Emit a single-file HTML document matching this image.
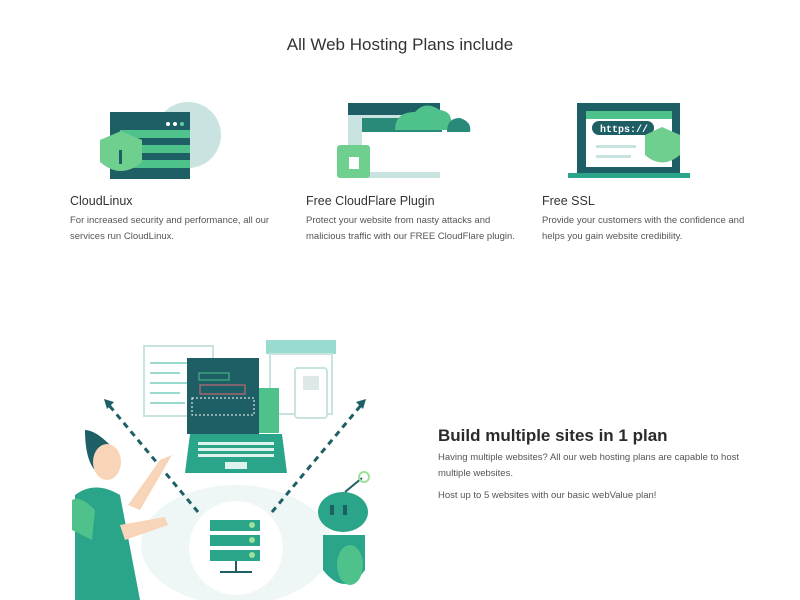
<!DOCTYPE html>
<html><head><meta charset="utf-8"><style>
body{margin:0;width:800px;height:600px;background:#fff;font-family:"Liberation Sans",sans-serif;position:relative;overflow:hidden;color:#333}
.t{position:absolute;white-space:nowrap}
h1{position:absolute;margin:0;top:35px;left:0;width:800px;text-align:center;font-weight:normal;font-size:17px;color:#333}
.h{font-size:12.5px;color:#333}
.d{font-size:9.5px;color:#555;line-height:16px}
</style></head><body>
<h1>All Web Hosting Plans include</h1>
<svg width="800" height="600" style="position:absolute;left:0;top:0">
<!-- icon 1 -->
<circle cx="188" cy="135" r="33" fill="#c9e3e0"/>
<rect x="110" y="112" width="80" height="67" fill="#1e5f66"/>
<rect x="120" y="130" width="70" height="8" fill="#4fc18a"/>
<rect x="120" y="145" width="70" height="8" fill="#4fc18a"/>
<rect x="120" y="160" width="70" height="8" fill="#4fc18a"/>
<circle cx="168" cy="124" r="2" fill="#fff"/><circle cx="175" cy="124" r="2" fill="#fff"/><circle cx="182" cy="124" r="2" fill="#5cd0a8"/>
<path d="M100 140 L121 131 L142 140 L142 162 Q121 180 100 162 Z" fill="#6fcf8f"/>
<rect x="119" y="150" width="3" height="14" fill="#1e5f66"/>
<!-- icon 2 -->
<rect x="348" y="103" width="92" height="75" fill="#c9e3e0"/>
<rect x="348" y="103" width="92" height="12" fill="#1e5f66"/>
<rect x="362" y="118" width="80" height="14" fill="#2a8a7a"/>
<rect x="362" y="132" width="80" height="40" fill="#fff"/>
<path d="M395 130 Q395 112 415 112 Q425 100 440 110 Q455 112 450 130 Z" fill="#4fc18a"/>
<path d="M447 132 Q447 118 460 118 Q472 122 470 132 Z" fill="#2a8a7a"/>
<rect x="337" y="145" width="33" height="33" rx="3" fill="#6fcf8f"/>
<rect x="349" y="157" width="10" height="12" fill="#fff"/>
<!-- icon 3 -->
<rect x="577" y="103" width="103" height="70" fill="#1e5f66"/>
<rect x="586" y="111" width="86" height="56" fill="#fff"/>
<rect x="586" y="111" width="86" height="8" fill="#4fc18a"/>
<rect x="592" y="121" width="62" height="14" rx="7" fill="#1e5f66"/>
<text x="600" y="132" font-size="10" font-weight="bold" fill="#fff" font-family="Liberation Mono">https://</text>
<rect x="568" y="173" width="122" height="5" fill="#2aa58a"/>
<path d="M645 135 L662 127 L680 135 L680 155 Q662 170 645 155 Z" fill="#6fcf8f"/>
<rect x="596" y="145" width="40" height="3" fill="#c9e3e0"/><rect x="596" y="155" width="35" height="3" fill="#c9e3e0"/>
<!-- illustration -->
<ellipse cx="236" cy="545" rx="95" ry="60" fill="#eef7f5"/>
<rect x="144" y="346" width="69" height="70" fill="#fff" stroke="#c9e3e0" stroke-width="2"/>
<g fill="#9adbd0"><rect x="150" y="362" width="40" height="2"/><rect x="150" y="372" width="30" height="2"/><rect x="150" y="382" width="40" height="2"/><rect x="150" y="392" width="30" height="2"/><rect x="150" y="402" width="35" height="2"/></g>
<rect x="266" y="340" width="70" height="14" fill="#9adbd0"/>
<rect x="270" y="354" width="62" height="60" fill="#fff" stroke="#c9e3e0" stroke-width="2"/>
<rect x="295" y="368" width="32" height="50" rx="3" fill="#fff" stroke="#c9e3e0" stroke-width="2"/>
<rect x="303" y="376" width="16" height="14" fill="#dde9e7"/>
<rect x="187" y="358" width="72" height="76" fill="#1e5f66"/>
<rect x="199" y="373" width="30" height="7" fill="none" stroke="#4fc18a"/>
<rect x="200" y="385" width="45" height="9" fill="none" stroke="#e06a7a"/>
<rect x="192" y="398" width="62" height="17" fill="none" stroke="#fff" stroke-dasharray="2 2"/>
<rect x="259" y="388" width="20" height="45" fill="#4fc18a"/>
<path d="M190 434 L282 434 L287 473 L185 473Z" fill="#2aa58a"/>
<g fill="#dff3ee"><rect x="198" y="442" width="76" height="3"/><rect x="198" y="448" width="76" height="3"/><rect x="198" y="454" width="76" height="3"/><rect x="225" y="462" width="22" height="7"/></g>
<g stroke="#1e5f66" stroke-width="3" stroke-dasharray="6 5" fill="none">
<line x1="198" y1="512" x2="108" y2="404"/><line x1="272" y1="512" x2="362" y2="404"/></g>
<path d="M104 399 L114 402 L107 409Z M366 399 L356 402 L363 409Z" fill="#1e5f66"/>
<circle cx="236" cy="548" r="47" fill="#fff"/>
<rect x="210" y="520" width="50" height="11" fill="#2aa58a"/><rect x="210" y="535" width="50" height="11" fill="#2aa58a"/><rect x="210" y="550" width="50" height="11" fill="#2aa58a"/>
<circle cx="252" cy="525" r="3" fill="#9fe09a"/><circle cx="252" cy="540" r="3" fill="#9fe09a"/><circle cx="252" cy="555" r="3" fill="#9fe09a"/>
<line x1="236" y1="561" x2="236" y2="572" stroke="#1e5f66" stroke-width="2"/><line x1="220" y1="572" x2="252" y2="572" stroke="#1e5f66" stroke-width="2"/>
<!-- person -->
<path d="M85 430 Q95 430 110 445 L115 470 L100 475 Q85 465 85 430Z" fill="#1e5f66"/>
<ellipse cx="107" cy="462" rx="14" ry="18" fill="#f8d5b8"/>
<path d="M160 460 L172 455 L140 510 L128 505Z" fill="#f8d5b8"/>
<path d="M75 495 Q95 480 120 495 L140 600 L75 600 Z" fill="#2aa58a"/>
<path d="M72 500 Q80 495 95 510 L92 540 L72 530Z" fill="#4fc18a"/>
<path d="M120 525 L165 517 L168 525 L125 540Z" fill="#f8d5b8"/>
<!-- robot -->
<ellipse cx="343" cy="512" rx="25" ry="20" fill="#2aa58a"/>
<rect x="330" y="505" width="4" height="10" fill="#1e5f66"/><rect x="343" y="505" width="4" height="10" fill="#1e5f66"/>
<path d="M323 535 L365 535 L365 570 Q345 598 323 570Z" fill="#2aa58a"/>
<ellipse cx="350" cy="565" rx="13" ry="20" fill="#4fc18a"/>
<line x1="345" y1="492" x2="362" y2="478" stroke="#1e5f66" stroke-width="2"/>
<circle cx="364" cy="477" r="5" fill="none" stroke="#9fe09a" stroke-width="2"/>
</svg>
<div class="t h" style="left:70px;top:194px">CloudLinux</div>
<div class="t d" style="left:70px;top:213px">For increased security and performance, all our<br>services run CloudLinux.</div>
<div class="t h" style="left:306px;top:194px">Free CloudFlare Plugin</div>
<div class="t d" style="left:306px;top:213px">Protect your website from nasty attacks and<br>malicious traffic with our FREE CloudFlare plugin.</div>
<div class="t h" style="left:542px;top:194px">Free SSL</div>
<div class="t d" style="left:542px;top:213px">Provide your customers with the confidence and<br>helps you gain website credibility.</div>
<div class="t" style="left:438px;top:426px;font-size:17px;font-weight:bold;color:#2b2b2b">Build multiple sites in 1 plan</div>
<div class="t d" style="left:438px;top:450px;line-height:16px">Having multiple websites? All our web hosting plans are capable to host<br>multiple websites.</div>
<div class="t d" style="left:438px;top:488px">Host up to 5 websites with our basic webValue plan!</div>
</body></html>
